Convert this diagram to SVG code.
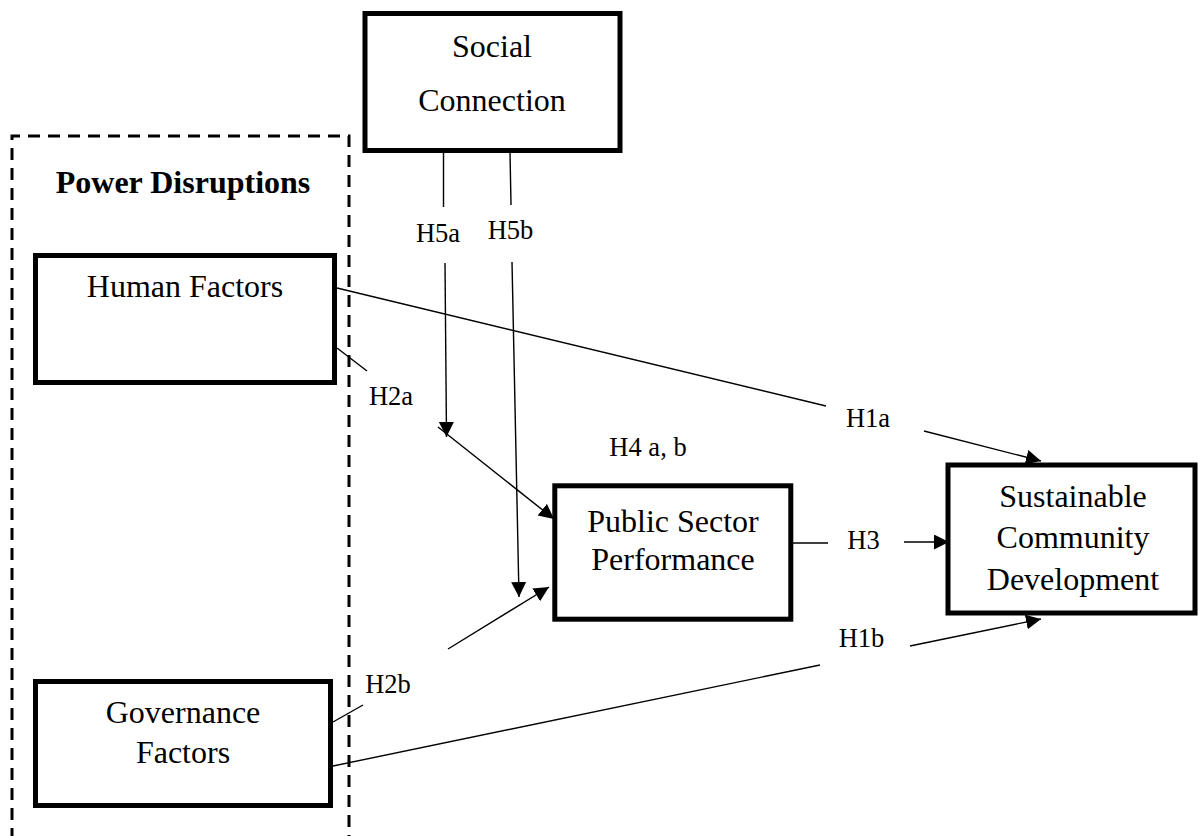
<svg xmlns="http://www.w3.org/2000/svg" width="1198" height="836" viewBox="0 0 1198 836">
<style>
.box{fill:#fff;stroke:#000;stroke-width:5}
.t{font-family:"Liberation Serif","Times New Roman",serif;font-size:32px;fill:#000;text-anchor:middle}
.lb{font-family:"Liberation Serif","Times New Roman",serif;font-size:26.5px;fill:#000;text-anchor:middle}
.c{stroke:#000;stroke-width:1.4;fill:none}
.dash{fill:none;stroke:#000;stroke-width:3;stroke-dasharray:12 8}
</style>
<defs>
<marker id="ah" markerUnits="userSpaceOnUse" markerWidth="16" markerHeight="16" refX="15" refY="7.5" orient="auto">
<path d="M0,0 L15,7.5 L0,15 z" fill="#000"/>
</marker>
</defs>
<rect width="1198" height="836" fill="#fff"/>
<g id="power-disruptions">
<path class="dash" d="M12,840 L12,136 L349,136 L349,840"/>
<text class="t" x="183" y="193" font-weight="bold">Power Disruptions</text>
</g>
<g id="social-connection">
<rect class="box" x="365" y="13.5" width="255" height="137"/>
<text class="t" x="492" y="57">Social</text>
<text class="t" x="492" y="111">Connection</text>
</g>
<g id="human-factors">
<rect class="box" x="35.5" y="255.5" width="299" height="127"/>
<text class="t" x="185" y="297">Human Factors</text>
</g>
<g id="governance-factors">
<rect class="box" x="35.5" y="681.5" width="295" height="124"/>
<text class="t" x="183" y="723">Governance</text>
<text class="t" x="183" y="763">Factors</text>
</g>
<g id="public-sector-performance">
<rect class="box" x="554.8" y="485.8" width="236" height="133.4"/>
<text class="t" x="673" y="532">Public Sector</text>
<text class="t" x="673" y="570">Performance</text>
</g>
<g id="sustainable-community-development">
<rect class="box" x="948" y="465" width="247" height="148"/>
<text class="t" x="1073" y="507">Sustainable</text>
<text class="t" x="1073" y="548">Community</text>
<text class="t" x="1073" y="590">Development</text>
</g>
<g id="connectors">
<line class="c" x1="337" y1="288" x2="826" y2="406"/>
<line class="c" x1="924" y1="431" x2="1041" y2="461" marker-end="url(#ah)"/>
<line class="c" x1="337" y1="348" x2="367" y2="371"/>
<line class="c" x1="438" y1="427" x2="554" y2="519" marker-end="url(#ah)"/>
<line class="c" x1="443.5" y1="152" x2="443.5" y2="207"/>
<line class="c" x1="445" y1="263" x2="446.5" y2="437" marker-end="url(#ah)"/>
<line class="c" x1="510" y1="152" x2="511" y2="205"/>
<line class="c" x1="512" y1="262" x2="519" y2="597" marker-end="url(#ah)"/>
<line class="c" x1="333" y1="722" x2="363" y2="705"/>
<line class="c" x1="448" y1="649" x2="549" y2="587" marker-end="url(#ah)"/>
<line class="c" x1="333" y1="766" x2="820" y2="665"/>
<line class="c" x1="910" y1="646" x2="1041" y2="619" marker-end="url(#ah)"/>
<line class="c" x1="793" y1="543" x2="828" y2="543"/>
<line class="c" x1="904" y1="542" x2="949" y2="542" marker-end="url(#ah)"/>
<text class="lb" x="868" y="427">H1a</text>
<text class="lb" x="391" y="405">H2a</text>
<text class="lb" x="438" y="242">H5a</text>
<text class="lb" x="510.5" y="239">H5b</text>
<text class="lb" x="388" y="693">H2b</text>
<text class="lb" x="861.5" y="647">H1b</text>
<text class="lb" x="863.5" y="549">H3</text>
<text class="lb" x="648" y="456">H4 a, b</text>
</g>
</svg>
